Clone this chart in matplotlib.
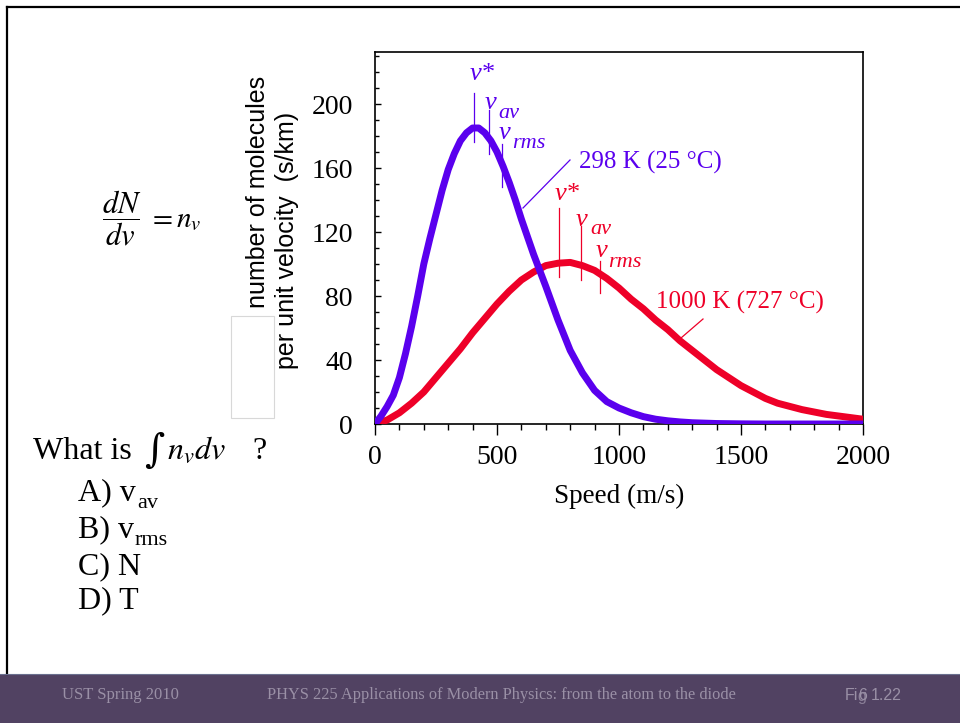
import matplotlib
matplotlib.use("Agg")
import matplotlib.pyplot as plt
from matplotlib.patches import Rectangle
from matplotlib.lines import Line2D
from matplotlib.ticker import MultipleLocator

# ---------------- data ----------------
speed_298 = [0, 25, 50, 75, 100, 125, 150, 175, 200, 225, 250, 275, 300, 325,
             350, 375, 400, 425, 450, 475, 500, 525, 550, 575, 600, 650, 700,
             750, 800, 850, 900, 950, 1000, 1050, 1100, 1150, 1200, 1250,
             1300, 1400, 1500, 1600, 1700, 1800, 1900, 2000]
n_298 = [0, 5, 11, 18, 29, 44, 61, 80, 100, 116, 131, 146, 159, 169,
         177, 182, 185, 185, 182, 177, 170, 161, 151, 140, 128, 106, 86,
         65, 46, 32, 21, 14, 10, 7, 4.6, 3, 2, 1.3,
         0.8, 0.3, 0.1, 0, 0, 0, 0, 0]
speed_1000 = [0, 50, 100, 150, 200, 250, 300, 350, 400, 450, 500, 550, 600,
              650, 700, 750, 800, 850, 900, 950, 1000, 1050, 1100, 1150,
              1200, 1250, 1300, 1350, 1400, 1450, 1500, 1550, 1600, 1650,
              1700, 1750, 1800, 1850, 1900, 1950, 2000]
n_1000 = [0, 2.5, 7, 13, 20, 29, 38, 47, 57, 66, 75, 83, 90, 95, 99, 100.5,
          101, 99, 96, 91, 85, 78, 72, 65, 59, 52, 46, 40, 34, 29, 24, 20,
          16, 13, 11, 9, 7.5, 6, 5, 4, 3]

# characteristic speeds (m/s) and the extent of their marker lines (s/km)
marks_298 = [407, 467, 522]
marks_298_top = [207, 196, 175]
marks_298_bot = [176, 169, 148]
marks_1000 = [755, 844, 922]
marks_1000_top = [135, 124, 102]
marks_1000_bot = [92, 90, 82]

x_ticks = [0, 500, 1000, 1500, 2000]
y_ticks = [0, 40, 80, 120, 160, 200]

BLUE = "#5a00ee"
RED = "#ee0028"

W, H = 960, 723
fig = plt.figure(figsize=(W / 100, H / 100), dpi=100)
fig.patch.set_facecolor("white")


def fp(x, y):
    return x / W, 1 - y / H


SERIF = ["Liberation Serif", "DejaVu Serif"]
SANS = ["Liberation Sans", "DejaVu Sans"]

# ---------------- slide frame and footer ----------------
fig.add_artist(Line2D([7 / W, 1], [1 - 7 / H, 1 - 7 / H], color="black", lw=1.6))
fig.add_artist(Line2D([7 / W, 7 / W], [1 - 7 / H, 1 - 674 / H], color="black", lw=1.6))
fig.add_artist(Rectangle((0, 0), 1, 49 / H, transform=fig.transFigure,
                         facecolor="#514262", edgecolor="none"))
fig.add_artist(Line2D([0, 1], [49 / H, 49 / H], color="#6a6f8e", lw=0.8))
fcol = "#9a90a6"
fig.text(*fp(62, 695), "UST Spring 2010", family=SERIF, fontsize=12,
         color=fcol, va="center", ha="left")
fig.text(*fp(267, 695), "PHYS 225 Applications of Modern Physics: from the atom to the diode",
         family=SERIF, fontsize=11.8, color=fcol, va="center", ha="left")
fig.text(*fp(845, 695), "Fi", family=SANS, fontsize=11.5,
         color=fcol, va="center", ha="left")
fig.text(*fp(857, 696), "g", family=SANS, fontsize=11.5,
         color=fcol, va="center", ha="left", alpha=0.8)
fig.text(*fp(858, 695), "6", family=SANS, fontsize=11.5,
         color=fcol, va="center", ha="left")
fig.text(*fp(871, 695), "1.22", family=SANS, fontsize=11.5,
         color=fcol, va="center", ha="left")

# ---------------- axes ----------------
ax = fig.add_axes([375 / W, 1 - 424 / H, 488 / W, 372 / H])
ax.plot(speed_1000, n_1000, color=RED, lw=5, solid_capstyle="round",
        solid_joinstyle="round", zorder=3)
ax.plot(speed_298, n_298, color=BLUE, lw=5, solid_capstyle="round",
        solid_joinstyle="round", zorder=4)
ax.set_xlim(0, 2000)
ax.set_ylim(0, 232.5)

for i in range(3):
    ax.plot([marks_298[i]] * 2, [marks_298_bot[i], marks_298_top[i]], color=BLUE, lw=0.9, zorder=5)
    ax.plot([marks_1000[i]] * 2, [marks_1000_bot[i], marks_1000_top[i]], color=RED, lw=0.9, zorder=5)

ax.set_xticks(x_ticks)
ax.set_xticklabels([str(v) for v in x_ticks])
ax.set_yticks(y_ticks)
ax.set_yticklabels([str(v) for v in y_ticks])
ax.xaxis.set_minor_locator(MultipleLocator(100))
ax.yaxis.set_minor_locator(MultipleLocator(10))
ax.tick_params(axis="x", which="major", direction="out", length=8, width=1, pad=7)
ax.tick_params(axis="x", which="minor", direction="out", length=4, width=1)
ax.tick_params(axis="y", which="major", direction="in", length=4, width=1, pad=16)
ax.tick_params(axis="y", which="minor", direction="in", length=3, width=1)
for lab_ in ax.get_xticklabels() + ax.get_yticklabels():
    lab_.set_family(SERIF)
    lab_.set_fontsize(20)
for s in ax.spines.values():
    s.set_linewidth(1.2)
ax.set_xlabel("Speed (m/s)", family=SERIF, fontsize=19.5, labelpad=10)

# curve annotations
ital = dict(family=SERIF, style="italic")


def lab(x, y, s, color, size, ha="left"):
    fig.text(*fp(x, y), s, color=color, fontsize=size, va="center", ha=ha, **ital)


lab(470, 74, "v*", BLUE, 19)
lab(485, 103, "v", BLUE, 19)
lab(498, 113, "av", BLUE, 16)
lab(499, 133, "v", BLUE, 19)
lab(512, 144, "rms", BLUE, 16)
lab(555, 194, "v*", RED, 19)
lab(576, 220, "v", RED, 19)
lab(590, 229, "av", RED, 16)
lab(596, 251, "v", RED, 19)
lab(608, 262, "rms", RED, 16)

fig.text(*fp(579, 162), "298 K (25 °C)", family=SERIF, fontsize=18,
         color=BLUE, va="center", ha="left")
fig.text(*fp(656, 302), "1000 K (727 °C)", family=SERIF, fontsize=18,
         color=RED, va="center", ha="left")
fig.add_artist(Line2D([570 / W, 523 / W], [1 - 160 / H, 1 - 208 / H], color=BLUE, lw=0.9))
fig.add_artist(Line2D([703 / W, 681 / W], [1 - 319 / H, 1 - 338 / H], color=RED, lw=0.9))

# y-axis label (two lines) and the small white box
fig.add_artist(Rectangle((231 / W, 1 - 418 / H), 43 / W, 102 / H, transform=fig.transFigure,
                         facecolor="white", edgecolor="#d8d8d8", lw=0.8, zorder=0))
fig.text(*fp(258, 192), "number of molecules", family=SANS, fontsize=18,
         rotation=90, va="center", ha="center")
fig.text(*fp(287, 240), "per unit velocity  (s/km)", family=SANS, fontsize=18,
         rotation=90, va="center", ha="center")

# ---------------- left-hand text ----------------
plt.rcParams["mathtext.fontset"] = "stix"
fig.text(*fp(102, 218), r"$\dfrac{dN}{dv}$", fontsize=22, va="center", ha="left")
fig.text(*fp(148, 219), r"$= n_{v}$", fontsize=21, va="center", ha="left")

body = dict(family=SERIF, fontsize=23, va="baseline", ha="left")
fig.text(*fp(33, 459), "What is", **body)
fig.text(*fp(144, 462), "\u222b", family=["DejaVu Serif"], fontsize=28,
         va="baseline", ha="left", style="italic")
fig.text(*fp(167, 459), r"$n_{v} dv$", fontsize=23, va="baseline", ha="left")
fig.text(*fp(252, 459), "?", **body)

opts = [("A) v", "av", 500), ("B) v", "rms", 537), ("C) N", "", 574), ("D) T", "", 608)]
for main, sub, yb in opts:
    t = fig.text(*fp(78, yb), main, **body)
    if sub:
        fig.canvas.draw()
        bb = t.get_window_extent()
        fig.text(bb.x1 / W + 1 / W, 1 - (yb + 8) / H, sub, family=SERIF,
                 fontsize=16, va="baseline", ha="left")

fig.savefig("out.png", dpi=100, facecolor="white")
